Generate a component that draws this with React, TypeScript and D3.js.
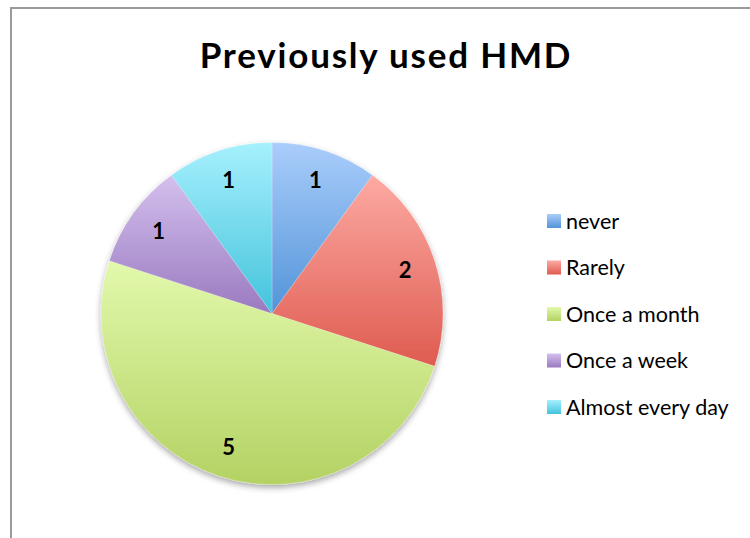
import React, { useRef, useEffect } from 'react';
import * as d3 from 'd3';

const categories = ['never', 'Rarely', 'Once a month', 'Once a week', 'Almost every day'];
const counts = [1, 2, 5, 1, 1];
// gradient stops per slice: light (top) -> dark (bottom)
const topColors = ['#aacdfb', '#fcaaa3', '#e2f9ac', '#d4c0ee', '#a6f0fd'];
const bottomColors = ['#5294d8', '#df5b50', '#b4d263', '#9a7ac0', '#44c3dc'];

const App = () => {
  const svgRef = useRef(null);

  useEffect(() => {
    const svg = d3.select(svgRef.current);
    const width = 750;
    const height = 538;
    const cx = 272;
    const cy = 313.5;
    const radius = 171;

    svg.selectAll('*').remove();

    const defs = svg.append('defs');
    categories.forEach((c, i) => {
      const g = defs.append('linearGradient')
        .attr('id', 'grad' + i)
        .attr('x1', 0).attr('y1', 0).attr('x2', 0).attr('y2', 1);
      g.append('stop').attr('offset', '0%').attr('stop-color', topColors[i]);
      g.append('stop').attr('offset', '100%').attr('stop-color', bottomColors[i]);
    });
    const shadow = defs.append('filter').attr('id', 'shadow')
      .attr('x', '-20%').attr('y', '-20%').attr('width', '140%').attr('height', '140%');
    shadow.append('feDropShadow')
      .attr('dx', 0).attr('dy', 3).attr('stdDeviation', 3)
      .attr('flood-color', '#000').attr('flood-opacity', 0.35);

    svg.append('rect')
      .attr('width', width).attr('height', height).attr('fill', '#fff');

    // chart frame
    svg.append('path')
      .attr('d', `M11,${height} V8 H${width}`)
      .attr('fill', 'none')
      .attr('stroke', '#9a9a9a')
      .attr('stroke-width', 2);

    svg.append('text')
      .attr('x', 386)
      .attr('y', 68)
      .attr('text-anchor', 'middle')
      .style('font-family', 'Lato, sans-serif')
      .style('font-weight', 'bold')
      .style('font-size', '35px')
      .style('letter-spacing', '1.8px')
      .attr('fill', '#000')
      .text('Previously used HMD');

    const pie = d3.pie().value(d => d).sort(null);
    const arc = d3.arc().innerRadius(0).outerRadius(radius);
    const labelArc = d3.arc().innerRadius(140).outerRadius(140);
    const pieData = pie(counts);

    const chartGroup = svg.append('g').attr('transform', `translate(${cx},${cy})`);

    const slices = chartGroup.append('g').attr('filter', 'url(#shadow)');
    slices.selectAll('path')
      .data(pieData)
      .enter()
      .append('path')
      .attr('d', arc)
      .attr('fill', (d, i) => `url(#grad${i})`)
      .attr('stroke', 'rgba(255,255,255,0.35)')
      .attr('stroke-width', 0.6);

    chartGroup.selectAll('text.lbl')
      .data(pieData)
      .enter()
      .append('text')
      .attr('class', 'lbl')
      .attr('transform', d => `translate(${labelArc.centroid(d)})`)
      .attr('text-anchor', 'middle')
      .attr('dy', '0.36em')
      .style('font-family', 'Lato, sans-serif')
      .style('font-weight', 'bold')
      .style('font-size', '22px')
      .text(d => d.data);

    // legend
    const legend = svg.append('g').attr('transform', 'translate(547,221)');
    const item = legend.selectAll('g')
      .data(categories)
      .enter()
      .append('g')
      .attr('transform', (d, i) => `translate(0,${i * 46.5})`);
    item.append('rect')
      .attr('x', 0).attr('y', -7)
      .attr('width', 14).attr('height', 14)
      .attr('fill', (d, i) => `url(#grad${i})`);
    item.append('text')
      .attr('x', 19)
      .attr('dy', '0.35em')
      .style('font-family', 'Lato, sans-serif')
      .style('font-size', '21.5px')
      .attr('fill', '#000')
      .text(d => d);
  }, []);

  return (
    <div>
      <svg ref={svgRef} width={750} height={538} style={{ position: 'absolute', left: 0, top: 0 }} />
    </div>
  );
};

export default App;
